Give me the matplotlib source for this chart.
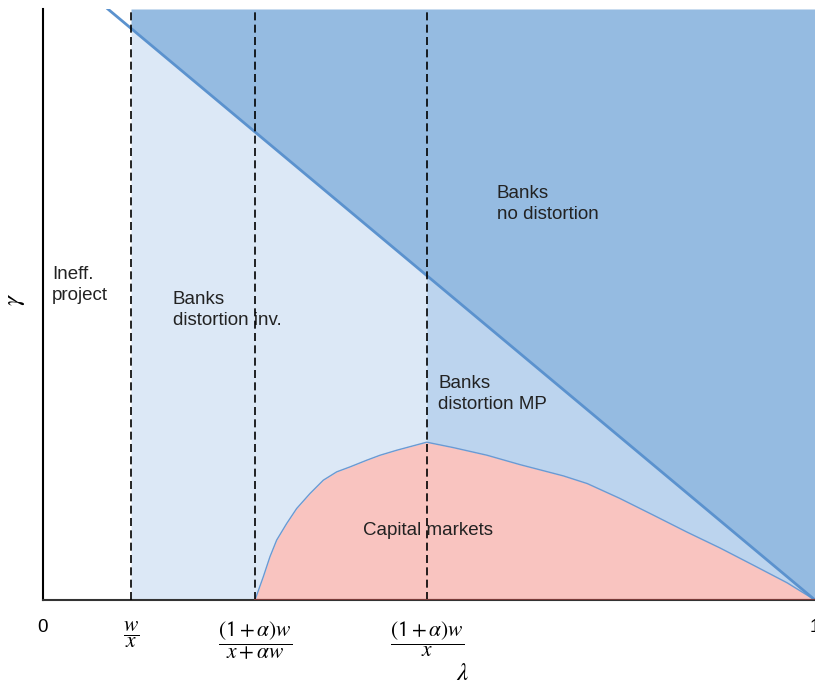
import numpy as np
import matplotlib
matplotlib.use("Agg")
import matplotlib.pyplot as plt

plt.rcParams['font.family'] = ['Liberation Sans', 'DejaVu Sans']
plt.rcParams['mathtext.fontset'] = 'stix'

# ---- data ----
cut_w_x = 0.114        # w/x
cut_mid = 0.2746       # (1+a)w/(x+a w)
cut_peak = 0.497       # (1+a)w/x

diag_lambda = [0.084, 1.0]
diag_gamma = [1.0, 0.0]

curve_lambda = [0.114, 0.2746, 0.2854, 0.2940, 0.3027, 0.3157, 0.3286, 0.3459, 0.3631,
                0.3804, 0.3977, 0.4193, 0.4365, 0.4582, 0.497,
                0.531, 0.575, 0.618, 0.674, 0.705, 0.747, 0.790, 0.834, 0.877, 0.920, 0.964, 1.0]
curve_gamma = [0.0, 0.0, 0.0394, 0.0732, 0.1014, 0.1295, 0.1548, 0.1802, 0.2027,
               0.2168, 0.2252, 0.2365, 0.2449, 0.2534, 0.267,
               0.258, 0.245, 0.229, 0.210, 0.197, 0.172, 0.144, 0.115, 0.088, 0.059, 0.029, 0.0]

tick_pos = [0.0, cut_w_x, cut_mid, cut_peak, 1.0]
tick_labels = ['0', r'$\dfrac{w}{x}$', r'$\dfrac{(\mathsf{1}+\alpha)w}{x+\alpha w}$',
               r'$\dfrac{(\mathsf{1}+\alpha)w}{x}$', '1']

region_labels = [
    (0.0117, 0.533, "Ineff.\nproject"),
    (0.168, 0.490, "Banks\ndistortion inv."),
    (0.512, 0.349, "Banks\ndistortion MP"),
    (0.588, 0.670, "Banks\nno distortion"),
    (0.4145, 0.118, "Capital markets"),
]

c_dark = '#95bbe1'
c_light = '#dce8f6'
c_med = '#bcd4ee'
c_red = '#f9c4c0'
c_line = '#5b92ce'

fig = plt.figure(figsize=(8.15, 6.87), dpi=100)
ax = fig.add_axes([43/815, 87/687, 772/815, 591/687])

cl = np.array(curve_lambda)
cg = np.array(curve_gamma)
dg = np.interp(cl, diag_lambda, diag_gamma)

ax.fill_between(cl, dg, 1.0, color=c_dark, lw=0)
mL = cl <= cut_peak
ax.fill_between(cl[mL], cg[mL], dg[mL], color=c_light, lw=0)
mR = cl >= cut_peak
ax.fill_between(cl[mR], cg[mR], dg[mR], color=c_med, lw=0)
mC = cl >= cut_mid
ax.fill_between(cl[mC], 0, cg[mC], color=c_red, lw=0)

ax.plot(cl, cg, color='#6a9ad3', lw=1.0)
ax.plot(diag_lambda, diag_gamma, color=c_line, lw=2.0, clip_on=True)
ax.plot([cut_mid, 1.0], [0, 0], color='#7a3a38', lw=1.5, zorder=5)

for xv in [cut_w_x, cut_mid, cut_peak]:
    ax.axvline(xv, color='black', lw=1.2, ls=(0, (4.8, 2.6)), zorder=4)

for x, y, t in region_labels:
    ax.text(x, y, t, fontsize=13.5, ha='left', va='center', color='#222222', linespacing=1.3)

ax.set_xlim(0, 1)
ax.set_ylim(0, 1)
ax.set_yticks([])
ax.set_xticks(tick_pos)
ax.set_xticklabels(tick_labels, fontsize=15.5)
for lab in ax.get_xticklabels():
    if lab.get_text() in ('0', '1'):
        lab.set_fontsize(13.5)
ax.tick_params(axis='x', length=0, pad=14)
for sp in ['top', 'right']:
    ax.spines[sp].set_visible(False)
ax.spines['left'].set_linewidth(1.5)
ax.spines['bottom'].set_linewidth(1.5)
ax.spines['bottom'].set_color('#333333')

ax.set_xlabel(r'$\lambda$', fontsize=18, va='center')
ax.xaxis.set_label_coords(0.544, -0.124)
ax.set_ylabel(r'$\gamma$', fontsize=18, va='center')
ax.yaxis.set_label_coords(-0.036, 0.508)

fig.savefig('out.png', dpi=100)
